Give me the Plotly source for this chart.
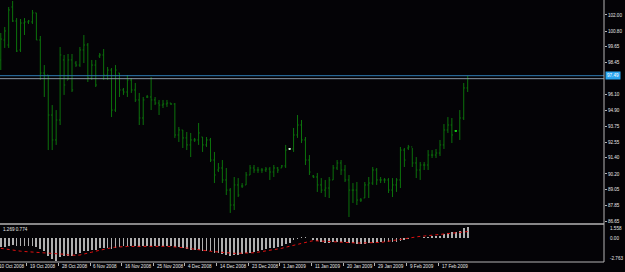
import plotly.graph_objects as go

# ---------------- data ----------------
bar_index = list(range(119))

high = [100.66,101.11,102.59,103.04,101.77,101.70,101.77,101.63,102.37,102.15,
        100.44,98.28,97.54,95.31,94.94,99.62,99.03,99.10,99.10,98.58,
        99.62,100.51,99.92,98.66,98.66,99.18,99.47,98.14,98.06,98.28,
        97.69,96.58,97.54,97.32,96.95,96.21,95.91,96.06,97.39,95.91,
        95.69,95.69,95.69,95.46,95.46,93.68,93.46,93.31,93.24,92.87,
        93.98,92.94,92.94,92.87,91.83,91.01,91.23,90.64,89.15,89.97,
        89.89,89.52,90.34,90.86,90.86,90.71,90.64,90.71,90.71,90.86,
        90.71,90.86,92.35,92.12,93.61,94.57,94.20,92.94,91.60,90.12,
        90.27,89.89,89.75,89.97,90.86,91.23,91.23,90.86,90.12,89.52,
        89.60,88.41,89.60,89.97,90.71,90.64,89.97,89.89,89.89,89.89,
        89.89,92.20,92.12,92.35,92.12,91.45,91.08,91.08,91.97,91.97,
        92.05,92.72,93.90,94.42,94.35,93.46,94.94,96.95,97.47]
low = [97.91,99.55,99.55,101.48,99.25,99.25,100.51,101.33,101.33,100.14,
       97.17,95.91,91.97,91.97,92.35,93.83,96.06,97.17,96.28,98.14,
       98.14,98.43,97.02,97.17,96.65,98.80,97.17,97.17,94.42,94.80,
       95.91,96.06,95.91,96.21,95.54,93.83,93.83,95.83,94.94,95.31,
       94.57,95.09,95.17,95.31,92.87,92.57,92.12,91.97,91.45,92.57,
       92.35,91.83,92.20,91.08,89.52,90.34,89.52,88.63,87.30,87.52,
       88.48,89.15,89.38,90.12,90.27,90.27,90.27,90.34,89.75,89.97,
       90.27,90.64,90.64,91.97,91.83,92.87,92.49,90.86,90.12,89.89,
       88.86,88.78,88.48,88.41,89.75,90.49,90.12,89.60,87.00,88.04,
       87.89,88.11,88.41,88.41,89.38,89.38,89.52,89.52,88.78,88.48,
       88.86,89.15,90.71,91.97,90.71,89.89,89.75,90.49,90.49,91.38,
       91.38,91.53,92.05,93.24,92.49,93.31,92.72,94.20,96.28]
open_ = [98.66,100.14,99.77,102.59,101.55,99.40,101.40,101.48,101.48,102.15,
         100.14,97.69,97.54,94.57,92.72,94.20,98.66,97.17,98.66,98.43,
         98.28,99.40,99.77,97.32,98.28,98.95,99.03,97.54,97.91,94.94,
         97.69,96.43,96.28,97.17,96.43,95.69,94.35,95.91,95.91,95.69,
         95.46,95.31,95.39,95.46,95.39,93.09,93.46,92.87,92.35,92.72,
         92.72,92.94,92.35,92.72,91.23,90.49,90.64,89.75,89.00,87.89,
         89.38,89.30,89.38,90.12,90.64,90.49,90.49,90.49,90.56,90.34,
         90.64,90.64,90.79,92.05,92.05,93.09,93.83,92.72,91.23,90.04,
         89.97,89.38,89.00,89.15,89.75,90.64,91.01,90.49,89.75,89.00,
         89.00,88.26,88.41,89.38,89.52,90.49,89.75,89.75,89.75,89.00,
         89.38,89.75,91.97,92.12,92.20,91.01,90.49,90.86,90.86,91.60,
         91.60,91.75,92.35,93.46,93.83,93.39,93.39,94.35,96.58]
close = [100.21,100.81,102.37,101.55,99.32,101.40,101.48,101.55,102.15,100.14,
         97.69,97.54,94.57,92.72,94.20,99.03,96.80,98.66,96.43,98.28,
         99.40,99.77,97.32,98.28,96.80,99.03,97.54,97.91,94.94,97.91,
         96.43,96.28,97.17,96.43,95.69,94.35,95.69,95.91,95.69,95.46,
         95.31,95.39,95.46,95.39,93.09,93.46,92.87,92.35,92.72,92.72,
         93.24,92.35,92.72,91.23,90.12,90.64,89.75,89.00,87.89,89.38,
         88.63,89.30,90.12,90.64,90.49,90.49,90.49,90.56,90.34,90.64,
         90.49,90.79,91.97,92.05,93.09,93.83,92.72,91.23,90.34,89.97,
         89.38,89.00,89.15,89.75,90.64,91.01,90.49,89.75,89.00,89.00,
         88.26,88.26,89.38,89.52,90.49,89.75,89.75,89.75,89.00,89.38,
         89.75,91.97,91.23,92.20,91.01,90.49,90.86,90.86,91.60,91.60,
         91.75,92.35,93.46,93.83,93.09,93.39,94.35,96.58,97.27]

# bars whose open equals close are drawn in a brighter colour
doji_bars = [73, 115]
doji_colors = ["#d8ecd8", "#16d016"]

macd_main = [-1.10,-1.05,-0.95,-0.85,-1.00,-1.00,-0.95,-0.95,-0.90,-1.05,
             -1.35,-1.60,-2.10,-2.50,-2.70,-2.30,-2.20,-2.15,-2.10,-1.95,
             -1.75,-1.55,-1.55,-1.45,-1.40,-1.25,-1.20,-1.15,-1.30,-1.15,
             -1.05,-1.00,-0.90,-0.90,-0.90,-1.05,-1.00,-0.95,-0.90,-0.90,
             -0.90,-0.90,-0.90,-0.90,-1.05,-1.10,-1.20,-1.30,-1.40,-1.45,
             -1.45,-1.50,-1.50,-1.60,-1.75,-1.80,-1.90,-2.00,-2.10,-2.05,
             -2.00,-1.95,-1.85,-1.75,-1.65,-1.55,-1.45,-1.35,-1.25,-1.15,
             -1.05,-0.95,-0.75,-0.60,-0.25,-0.05,0.10,0.10,0.00,-0.15,
             -0.40,-0.50,-0.55,-0.55,-0.50,-0.45,-0.45,-0.50,-0.60,-0.65,
             -0.70,-0.75,-0.70,-0.65,-0.55,-0.50,-0.50,-0.50,-0.50,-0.50,
             -0.50,-0.30,-0.15,-0.05,0.00,0.00,0.00,0.05,0.10,0.15,
             0.20,0.30,0.45,0.60,0.70,0.75,0.90,1.15,1.27]
macd_signal = [-1.24,-1.32,-1.40,-1.47,-1.53,-1.58,-1.62,-1.65,-1.68,-1.70,
               -1.72,-1.74,-1.76,-1.79,-1.82,-1.86,-1.95,-2.03,-2.10,-2.08,
               -2.04,-1.95,-1.83,-1.70,-1.58,-1.46,-1.35,-1.24,-1.17,-1.10,
               -1.05,-1.03,-1.02,-1.01,-1.00,-1.00,-1.00,-1.00,-1.00,-1.00,
               -1.00,-1.00,-1.00,-1.03,-1.06,-1.09,-1.12,-1.20,-1.28,-1.36,
               -1.44,-1.49,-1.54,-1.59,-1.64,-1.69,-1.74,-1.79,-1.84,-1.84,
               -1.84,-1.84,-1.84,-1.84,-1.77,-1.70,-1.63,-1.56,-1.48,-1.40,
               -1.32,-1.24,-1.11,-0.98,-0.85,-0.72,-0.62,-0.52,-0.42,-0.32,
               -0.35,-0.38,-0.42,-0.45,-0.47,-0.49,-0.51,-0.53,-0.55,-0.58,
               -0.60,-0.60,-0.60,-0.60,-0.60,-0.60,-0.53,-0.46,-0.38,-0.31,
               -0.24,-0.16,-0.08,0.00,0.08,0.16,0.20,0.24,0.28,0.32,
               0.36,0.41,0.46,0.51,0.56,0.61,0.67,0.72,0.774]

date_labels = ["10 Oct 2008", "19 Oct 2008", "28 Oct 2008", "6 Nov 2008", "16 Nov 2008",
               "25 Nov 2008", "4 Dec 2008", "14 Dec 2008", "23 Dec 2008", "1 Jan 2009",
               "11 Jan 2009", "20 Jan 2009", "29 Jan 2009", "9 Feb 2009", "17 Feb 2009"]
date_label_bars = [-1, 7, 15, 23, 31, 39, 47, 55, 63, 71, 79, 87, 95, 103, 111]

price_ticks = [86.65, 87.85, 89.05, 90.20, 91.40, 92.55, 93.75, 94.90, 96.10,
               98.45, 99.65, 100.80, 102.00]
ask_price = 97.49
bid_price = 97.27
macd_max = 1.558
macd_min = -2.763
macd_readout = "1.269 0.774"

# ---------------- layout constants ----------------
W, H = 625, 272
plot_right = 604
main_bottom = 224
sub_bottom = 262
xr = [-0.195, 152.45]
xdom = [0, plot_right / W]
grey = "#b4b4b4"
txt = "#e6e6e6"
fnt = "Liberation Sans"
fs = 4.6
bar_green = "#0c720c"

def xpaper(v):
    return xdom[1] * (v - xr[0]) / (xr[1] - xr[0])

fig = go.Figure()
fig.add_trace(go.Ohlc(
    x=bar_index, open=open_, high=high, low=low, close=close,
    increasing=dict(line=dict(color=bar_green, width=1)),
    decreasing=dict(line=dict(color=bar_green, width=1)),
    tickwidth=0.3, hoverinfo="skip", xaxis="x", yaxis="y"))
for b, col in zip(doji_bars, doji_colors):
    fig.add_trace(go.Ohlc(
        x=[b - 1, b], open=[None, open_[b]], high=[None, high[b]], low=[None, low[b]],
        close=[None, close[b]],
        increasing=dict(line=dict(color=col, width=1.3)),
        decreasing=dict(line=dict(color=col, width=1.3)),
        tickwidth=0.3, hoverinfo="skip", xaxis="x", yaxis="y"))
fig.add_trace(go.Bar(
    x=bar_index, y=macd_main, width=0.2, marker=dict(color="#b0b0b0", line=dict(width=0)),
    hoverinfo="skip", xaxis="x", yaxis="y2"))
fig.add_trace(go.Scatter(
    x=bar_index, y=macd_signal, mode="lines",
    line=dict(color="#e01010", width=1, dash="dot"),
    hoverinfo="skip", xaxis="x", yaxis="y2"))

tick_pos = [b - 0.45 for b in date_label_bars]

shapes = [
    dict(type="line", xref="paper", yref="y", x0=0, x1=xdom[1], y0=ask_price, y1=ask_price,
         line=dict(color="#2f7db5", width=1)),
    dict(type="line", xref="paper", yref="y", x0=0, x1=xdom[1], y0=bid_price, y1=bid_price,
         line=dict(color="#8a96a4", width=1)),
    dict(type="line", xref="paper", yref="paper", x0=0, x1=xdom[1],
         y0=1 - main_bottom / H, y1=1 - main_bottom / H, line=dict(color=grey, width=1.3)),
    dict(type="line", xref="paper", yref="paper", x0=0, x1=xdom[1],
         y0=1 - sub_bottom / H, y1=1 - sub_bottom / H, line=dict(color=grey, width=1)),
    dict(type="line", xref="paper", yref="paper", x0=xdom[1], x1=xdom[1],
         y0=1 - sub_bottom / H, y1=1, line=dict(color=grey, width=1)),
]

annotations = []
for lab, pos in zip(date_labels, tick_pos):
    annotations.append(dict(text=lab, xref="paper", yref="paper", x=xpaper(pos), y=1 - 266 / H,
                            xanchor="left", yanchor="middle", xshift=1.5, showarrow=False,
                            font=dict(family=fnt, size=fs, color=txt)))
# price box on the axis
annotations.append(dict(text=f"{ask_price:.2f}", xref="paper", yref="y", x=xdom[1], y=ask_price,
                        xanchor="left", yanchor="middle", xshift=1, showarrow=False,
                        bgcolor="#2aa6f0", borderpad=1,
                        font=dict(family=fnt, size=fs, color="#ffffff")))
# indicator scale labels
for val, ypx in [(macd_max, 228.3), (0.0, 238.3), (macd_min, 258.7)]:
    s = f"{val:.3f}" if val != 0 else "0.00"
    annotations.append(dict(text=s, xref="paper", yref="paper", x=xdom[1], y=1 - ypx / H,
                            xanchor="left", yanchor="middle", xshift=4, showarrow=False,
                            font=dict(family=fnt, size=fs, color=txt)))
annotations.append(dict(text=macd_readout, xref="paper", yref="paper", x=0, y=1 - 229 / H,
                        xanchor="left", yanchor="middle", xshift=1, showarrow=False,
                        font=dict(family=fnt, size=fs, color=txt)))

fig.update_layout(
    width=W, height=H, margin=dict(l=0, r=0, t=0, b=0),
    paper_bgcolor="#040306", plot_bgcolor="#040306",
    showlegend=False, bargap=0,
    xaxis=dict(domain=xdom, range=xr, anchor="y2", showgrid=False, zeroline=False,
               showline=False, tickvals=tick_pos, ticks="outside", ticklen=3,
               tickcolor=grey, showticklabels=False, rangeslider=dict(visible=False),
               fixedrange=True),
    yaxis=dict(domain=[1 - main_bottom / H, 1], range=[86.48, 103.11], side="right",
               anchor="x", showgrid=False, zeroline=False, showline=False,
               tickvals=price_ticks, ticktext=[f"{v:.2f}" for v in price_ticks],
               ticks="outside", ticklen=2, tickcolor=grey,
               tickfont=dict(family=fnt, size=fs, color=txt), fixedrange=True),
    yaxis2=dict(domain=[1 - sub_bottom / H, 1 - main_bottom / H], range=[-2.88, 1.68],
                side="right", anchor="x", showgrid=False, zeroline=False, showline=False,
                tickvals=[], fixedrange=True),
    shapes=shapes, annotations=annotations,
)

fig.write_html("out.html", config={"displayModeBar": False})
